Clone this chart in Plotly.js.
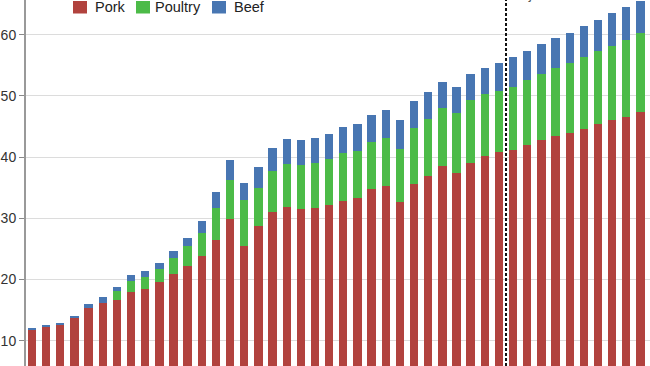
<!DOCTYPE html>
<html>
<head>
<meta charset="utf-8">
<script src="https://cdn.plot.ly/plotly-3.0.1.min.js"></script>
<style>html,body{margin:0;padding:0;background:#fff;}#chart{width:650px;height:366px;}</style>
</head>
<body>
<div id="chart"></div>
<script>
const years = [1980,1981,1982,1983,1984,1985,1986,1987,1988,1989,1990,1991,1992,1993,1994,1995,1996,1997,1998,1999,2000,2001,2002,2003,2004,2005,2006,2007,2008,2009,2010,2011,2012,2013,2014,2015,2016,2017,2018,2019,2020,2021,2022,2023];
const pork = [11.8,12.3,12.5,13.7,15.4,16.2,16.7,18.0,18.5,19.55,20.85,22.2,23.8,26.5,29.9,25.5,28.8,31.0,31.8,31.5,31.7,32.1,32.8,33.3,34.8,35.3,32.65,35.6,36.95,38.5,37.4,39.1,40.2,40.8,41.2,42.0,42.8,43.5,44.0,44.6,45.4,46.0,46.6,47.3];
const poultry = [0,0,0,0,0,0,1.35,1.74,1.9,2.2,2.65,3.26,3.8,5.17,6.4,7.5,6.15,6.7,7.0,7.2,7.3,7.6,7.9,7.7,7.7,7.9,8.65,9.1,9.25,9.5,9.8,10.2,10.1,10.05,10.3,10.6,10.8,11.0,11.3,11.75,11.95,12.2,12.6,12.9];
const beef = [0.3,0.3,0.4,0.4,0.55,1.0,0.8,0.95,1.0,1.0,1.2,1.37,1.9,2.55,3.26,2.8,3.5,3.75,4.1,4.1,4.1,4.1,4.2,4.35,4.35,4.45,4.8,4.5,4.4,4.2,4.2,4.35,4.3,4.57,4.8,4.7,4.85,4.9,5.06,5.1,5.06,5.3,5.3,5.3];
const yTicks = [10,20,30,40,50,60];
const projectionStart = 2013.5;
const seriesNames = ['Pork','Poultry','Beef'];
const seriesColors = ['#b1423e','#4cbb48','#4876b2'];

const W = 650, H = 366, L = 26;
const font = "Liberation Sans, Arial, Helvetica, sans-serif";
const px = v => (v - L) / (W - L);
const py = v => 1 - v / H;

const series = [pork, poultry, beef];
const traces = series.map((s, i) => ({type:'bar', name:seriesNames[i], x:years, y:s, marker:{color:seriesColors[i]}}));

// legend drawn as shapes + text (placement only)
const legendSwatchX = [73, 136, 212];
const legendTextX = [93, 153, 232];
const shapes = [{type:'line', xref:'x', yref:'paper', x0:projectionStart, x1:projectionStart, y0:0, y1:1,
           line:{color:'#111', width:2, dash:'3px,2px'}}];
const annotations = [{xref:'x', yref:'paper', x:2016, y:1, yanchor:'bottom', yshift:-4, text:'Projections', showarrow:false, font:{size:14, color:'#555'}}];
seriesNames.forEach((n, i) => {
  shapes.push({type:'rect', xref:'paper', yref:'paper', x0:px(legendSwatchX[i]), x1:px(legendSwatchX[i]+14), y0:py(13.5), y1:py(1), fillcolor:seriesColors[i], line:{width:0}, layer:'above'});
  annotations.push({xref:'paper', yref:'paper', x:px(legendTextX[i]), y:py(7.5), xanchor:'left', yanchor:'middle', text:n, showarrow:false, font:{size:14.5, color:'#222'}});
});

const layout = {
  width:W, height:H,
  margin:{l:L, r:0, t:0, b:0, pad:0, autoexpand:false},
  barmode:'stack', bargap:0.41,
  paper_bgcolor:'#fff', plot_bgcolor:'#fff',
  font:{family:font, size:14, color:'#333'},
  showlegend:false,
  xaxis:{range:[years[0]-0.424, years[years.length-1]+0.676], visible:false, fixedrange:true},
  yaxis:{range:[5.87, 65.67], tickvals:yTicks, ticks:'outside', ticklen:5, tickwidth:1, tickcolor:'#888',
         showline:true, linecolor:'#999', linewidth:2, gridcolor:'#dcdcdc', gridwidth:1, zeroline:false,
         tickfont:{size:14, color:'#333'}, automargin:false},
  shapes:shapes,
  annotations:annotations
};
Plotly.newPlot('chart', traces, layout, {staticPlot:true, displayModeBar:false});
</script>
</body>
</html>
